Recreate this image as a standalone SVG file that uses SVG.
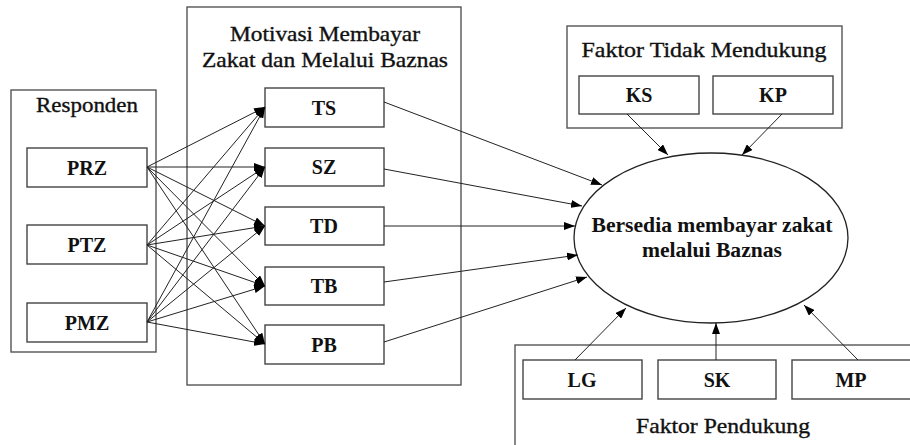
<svg xmlns="http://www.w3.org/2000/svg" width="910" height="445" viewBox="0 0 910 445">
<defs>
<marker id="ah" markerUnits="userSpaceOnUse" markerWidth="12" markerHeight="8" refX="11" refY="4" orient="auto">
<path d="M0,0 L11,4 L0,8 z" fill="#000"/>
</marker>
<style>
.grp{fill:#fff;stroke:#555;stroke-width:1.4}
.box{fill:#fff;stroke:#444;stroke-width:1.4}
.lbl{font-family:"Liberation Serif","Times New Roman",serif;font-weight:bold;font-size:20px;fill:#111;text-anchor:middle}
.big{font-size:21px}
.ttl{font-family:"Liberation Serif","Times New Roman",serif;font-size:21px;fill:#111;stroke:#111;stroke-width:0.35;text-anchor:middle}
.con line{stroke:#222;stroke-width:1;marker-end:url(#ah)}
</style>
</defs>
<rect width="910" height="445" fill="#fff"/>

<g id="grp-responden">
<rect class="grp" x="11" y="90" width="145" height="262"/>
<text class="ttl" x="87" y="112" textLength="102" lengthAdjust="spacingAndGlyphs">Responden</text>
</g>
<g id="grp-motivasi">
<rect class="grp" x="187" y="7" width="274" height="378"/>
<text class="ttl" x="325" y="41" textLength="190" lengthAdjust="spacingAndGlyphs">Motivasi Membayar</text>
<text class="ttl" x="325" y="67" textLength="246" lengthAdjust="spacingAndGlyphs">Zakat dan Melalui Baznas</text>
</g>
<g id="grp-tidak">
<rect class="grp" x="567" y="26" width="275" height="102"/>
<text class="ttl" x="704" y="57" textLength="245" lengthAdjust="spacingAndGlyphs">Faktor Tidak Mendukung</text>
</g>
<g id="grp-pendukung">
<rect class="grp" x="515" y="345" width="410" height="120"/>
<text class="ttl" x="723" y="433" textLength="174" lengthAdjust="spacingAndGlyphs">Faktor Pendukung</text>
</g>

<g id="PRZ"><rect class="box" x="27" y="148" width="120" height="39"/><text class="lbl" x="87" y="175">PRZ</text></g>
<g id="PTZ"><rect class="box" x="27" y="225" width="120" height="39"/><text class="lbl" x="87" y="252">PTZ</text></g>
<g id="PMZ"><rect class="box" x="27" y="303" width="120" height="39"/><text class="lbl" x="87" y="330">PMZ</text></g>

<g id="TS"><rect class="box" x="265" y="88" width="119" height="39"/><text class="lbl" x="324" y="115">TS</text></g>
<g id="SZ"><rect class="box" x="265" y="148" width="119" height="38"/><text class="lbl" x="324" y="174">SZ</text></g>
<g id="TD"><rect class="box" x="265" y="207" width="119" height="38"/><text class="lbl" x="324" y="233">TD</text></g>
<g id="TB"><rect class="box" x="265" y="267" width="119" height="38"/><text class="lbl" x="324" y="293">TB</text></g>
<g id="PB"><rect class="box" x="265" y="325" width="119" height="39"/><text class="lbl" x="324" y="352">PB</text></g>

<g id="KS"><rect class="box" x="579" y="76" width="120" height="38"/><text class="lbl" x="639" y="102">KS</text></g>
<g id="KP"><rect class="box" x="713" y="76" width="120" height="38"/><text class="lbl" x="773" y="102">KP</text></g>

<g id="LG"><rect class="box" x="523" y="360" width="119" height="39"/><text class="lbl" x="582" y="387">LG</text></g>
<g id="SK"><rect class="box" x="658" y="360" width="118" height="39"/><text class="lbl" x="717" y="387">SK</text></g>
<g id="MP"><rect class="box" x="792" y="360" width="125" height="39"/><text class="lbl" x="851" y="387">MP</text></g>

<g id="target">
<ellipse cx="711" cy="238" rx="137" ry="85" fill="#fff" stroke="#222" stroke-width="1.3"/>
<text class="lbl big" x="712" y="232" textLength="241" lengthAdjust="spacingAndGlyphs">Bersedia membayar zakat</text>
<text class="lbl big" x="712" y="257" textLength="140" lengthAdjust="spacingAndGlyphs">melalui Baznas</text>
</g>

<g id="connectors" class="con">
<line x1="147" y1="167" x2="265" y2="107"/>
<line x1="147" y1="167" x2="265" y2="167"/>
<line x1="147" y1="167" x2="265" y2="226"/>
<line x1="147" y1="167" x2="265" y2="286"/>
<line x1="147" y1="167" x2="265" y2="344"/>
<line x1="147" y1="245" x2="265" y2="107"/>
<line x1="147" y1="245" x2="265" y2="167"/>
<line x1="147" y1="245" x2="265" y2="226"/>
<line x1="147" y1="245" x2="265" y2="286"/>
<line x1="147" y1="245" x2="265" y2="344"/>
<line x1="147" y1="322" x2="265" y2="107"/>
<line x1="147" y1="322" x2="265" y2="167"/>
<line x1="147" y1="322" x2="265" y2="226"/>
<line x1="147" y1="322" x2="265" y2="286"/>
<line x1="147" y1="322" x2="265" y2="344"/>
<line x1="384" y1="102" x2="602" y2="185"/>
<line x1="384" y1="169" x2="582" y2="206"/>
<line x1="384" y1="226" x2="575" y2="226"/>
<line x1="384" y1="282" x2="578" y2="255"/>
<line x1="384" y1="342" x2="587" y2="277"/>
<line x1="627" y1="114" x2="668" y2="155"/>
<line x1="782" y1="114" x2="742" y2="155"/>
<line x1="575" y1="360" x2="626" y2="308"/>
<line x1="716" y1="360" x2="716" y2="323"/>
<line x1="858" y1="360" x2="804" y2="305"/>
</g>
</svg>
